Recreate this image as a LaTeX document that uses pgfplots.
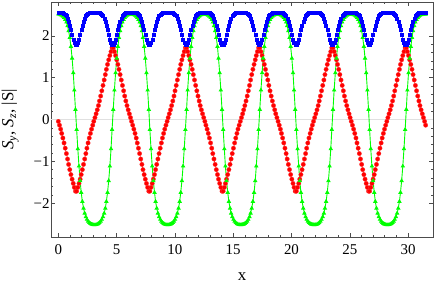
\documentclass[border=0pt]{standalone}
\usepackage{fontspec}
\setmainfont{Liberation Serif}
\usepackage{pgfplots}
\usepackage{pgfplotstable}
\pgfplotsset{compat=1.18}
\definecolor{mred}{rgb}{1,0,0}
\definecolor{mgreen}{rgb}{0,1,0}
\definecolor{mblue}{rgb}{0,0,1}
\pgfplotstableread{
x sy sz s
0.00 -0.045 2.520 2.560
0.10 -0.136 2.515 2.559
0.20 -0.231 2.506 2.557
0.29 -0.333 2.490 2.554
0.39 -0.443 2.468 2.547
0.49 -0.561 2.435 2.534
0.59 -0.686 2.390 2.511
0.69 -0.815 2.327 2.475
0.79 -0.945 2.241 2.422
0.88 -1.074 2.122 2.347
0.98 -1.199 1.960 2.252
1.08 -1.317 1.745 2.141
1.18 -1.427 1.465 2.025
1.28 -1.529 1.116 1.916
1.37 -1.624 0.702 1.832
1.47 -1.715 0.240 1.786
1.57 -1.715 -0.240 1.786
1.67 -1.624 -0.702 1.832
1.77 -1.529 -1.116 1.916
1.87 -1.427 -1.465 2.025
1.96 -1.317 -1.745 2.141
2.06 -1.199 -1.960 2.252
2.16 -1.074 -2.122 2.347
2.26 -0.945 -2.241 2.422
2.36 -0.815 -2.327 2.475
2.45 -0.686 -2.390 2.511
2.55 -0.561 -2.435 2.534
2.65 -0.443 -2.468 2.547
2.75 -0.333 -2.490 2.554
2.85 -0.231 -2.506 2.557
2.95 -0.136 -2.515 2.559
3.04 -0.045 -2.520 2.560
3.14 0.045 -2.520 2.560
3.24 0.136 -2.515 2.559
3.34 0.231 -2.506 2.557
3.44 0.333 -2.490 2.554
3.53 0.443 -2.468 2.547
3.63 0.561 -2.435 2.534
3.73 0.686 -2.390 2.511
3.83 0.815 -2.327 2.475
3.93 0.945 -2.241 2.422
4.03 1.074 -2.122 2.347
4.12 1.199 -1.960 2.252
4.22 1.317 -1.745 2.141
4.32 1.427 -1.465 2.025
4.42 1.529 -1.116 1.916
4.52 1.624 -0.702 1.832
4.61 1.715 -0.240 1.786
4.71 1.715 0.240 1.786
4.81 1.624 0.702 1.832
4.91 1.529 1.116 1.916
5.01 1.427 1.465 2.025
5.11 1.317 1.745 2.141
5.20 1.199 1.960 2.252
5.30 1.074 2.122 2.347
5.40 0.945 2.241 2.422
5.50 0.815 2.327 2.475
5.60 0.686 2.390 2.511
5.69 0.561 2.435 2.534
5.79 0.443 2.468 2.547
5.89 0.333 2.490 2.554
5.99 0.231 2.506 2.557
6.09 0.136 2.515 2.559
6.19 0.045 2.520 2.560
6.28 -0.045 2.520 2.560
6.38 -0.136 2.515 2.559
6.48 -0.231 2.506 2.557
6.58 -0.333 2.490 2.554
6.68 -0.443 2.468 2.547
6.77 -0.561 2.435 2.534
6.87 -0.686 2.390 2.511
6.97 -0.815 2.327 2.475
7.07 -0.945 2.241 2.422
7.17 -1.074 2.122 2.347
7.26 -1.199 1.960 2.252
7.36 -1.317 1.745 2.141
7.46 -1.427 1.465 2.025
7.56 -1.529 1.116 1.916
7.66 -1.624 0.702 1.832
7.76 -1.715 0.240 1.786
7.85 -1.715 -0.240 1.786
7.95 -1.624 -0.702 1.832
8.05 -1.529 -1.116 1.916
8.15 -1.427 -1.465 2.025
8.25 -1.317 -1.745 2.141
8.34 -1.199 -1.960 2.252
8.44 -1.074 -2.122 2.347
8.54 -0.945 -2.241 2.422
8.64 -0.815 -2.327 2.475
8.74 -0.686 -2.390 2.511
8.84 -0.561 -2.435 2.534
8.93 -0.443 -2.468 2.547
9.03 -0.333 -2.490 2.554
9.13 -0.231 -2.506 2.557
9.23 -0.136 -2.515 2.559
9.33 -0.045 -2.520 2.560
9.42 0.045 -2.520 2.560
9.52 0.136 -2.515 2.559
9.62 0.231 -2.506 2.557
9.72 0.333 -2.490 2.554
9.82 0.443 -2.468 2.547
9.92 0.561 -2.435 2.534
10.01 0.686 -2.390 2.511
10.11 0.815 -2.327 2.475
10.21 0.945 -2.241 2.422
10.31 1.074 -2.122 2.347
10.41 1.199 -1.960 2.252
10.50 1.317 -1.745 2.141
10.60 1.427 -1.465 2.025
10.70 1.529 -1.116 1.916
10.80 1.624 -0.702 1.832
10.90 1.715 -0.240 1.786
11.00 1.715 0.240 1.786
11.09 1.624 0.702 1.832
11.19 1.529 1.116 1.916
11.29 1.427 1.465 2.025
11.39 1.317 1.745 2.141
11.49 1.199 1.960 2.252
11.58 1.074 2.122 2.347
11.68 0.945 2.241 2.422
11.78 0.815 2.327 2.475
11.88 0.686 2.390 2.511
11.98 0.561 2.435 2.534
12.08 0.443 2.468 2.547
12.17 0.333 2.490 2.554
12.27 0.231 2.506 2.557
12.37 0.136 2.515 2.559
12.47 0.045 2.520 2.560
12.57 -0.045 2.520 2.560
12.66 -0.136 2.515 2.559
12.76 -0.231 2.506 2.557
12.86 -0.333 2.490 2.554
12.96 -0.443 2.468 2.547
13.06 -0.561 2.435 2.534
13.16 -0.686 2.390 2.511
13.25 -0.815 2.327 2.475
13.35 -0.945 2.241 2.422
13.45 -1.074 2.122 2.347
13.55 -1.199 1.960 2.252
13.65 -1.317 1.745 2.141
13.74 -1.427 1.465 2.025
13.84 -1.529 1.116 1.916
13.94 -1.624 0.702 1.832
14.04 -1.715 0.240 1.786
14.14 -1.715 -0.240 1.786
14.24 -1.624 -0.702 1.832
14.33 -1.529 -1.116 1.916
14.43 -1.427 -1.465 2.025
14.53 -1.317 -1.745 2.141
14.63 -1.199 -1.960 2.252
14.73 -1.074 -2.122 2.347
14.82 -0.945 -2.241 2.422
14.92 -0.815 -2.327 2.475
15.02 -0.686 -2.390 2.511
15.12 -0.561 -2.435 2.534
15.22 -0.443 -2.468 2.547
15.32 -0.333 -2.490 2.554
15.41 -0.231 -2.506 2.557
15.51 -0.136 -2.515 2.559
15.61 -0.045 -2.520 2.560
15.71 0.045 -2.520 2.560
15.81 0.136 -2.515 2.559
15.90 0.231 -2.506 2.557
16.00 0.333 -2.490 2.554
16.10 0.443 -2.468 2.547
16.20 0.561 -2.435 2.534
16.30 0.686 -2.390 2.511
16.40 0.815 -2.327 2.475
16.49 0.945 -2.241 2.422
16.59 1.074 -2.122 2.347
16.69 1.199 -1.960 2.252
16.79 1.317 -1.745 2.141
16.89 1.427 -1.465 2.025
16.98 1.529 -1.116 1.916
17.08 1.624 -0.702 1.832
17.18 1.715 -0.240 1.786
17.28 1.715 0.240 1.786
17.38 1.624 0.702 1.832
17.48 1.529 1.116 1.916
17.57 1.427 1.465 2.025
17.67 1.317 1.745 2.141
17.77 1.199 1.960 2.252
17.87 1.074 2.122 2.347
17.97 0.945 2.241 2.422
18.06 0.815 2.327 2.475
18.16 0.686 2.390 2.511
18.26 0.561 2.435 2.534
18.36 0.443 2.468 2.547
18.46 0.333 2.490 2.554
18.56 0.231 2.506 2.557
18.65 0.136 2.515 2.559
18.75 0.045 2.520 2.560
18.85 -0.045 2.520 2.560
18.95 -0.136 2.515 2.559
19.05 -0.231 2.506 2.557
19.14 -0.333 2.490 2.554
19.24 -0.443 2.468 2.547
19.34 -0.561 2.435 2.534
19.44 -0.686 2.390 2.511
19.54 -0.815 2.327 2.475
19.63 -0.945 2.241 2.422
19.73 -1.074 2.122 2.347
19.83 -1.199 1.960 2.252
19.93 -1.317 1.745 2.141
20.03 -1.427 1.465 2.025
20.13 -1.529 1.116 1.916
20.22 -1.624 0.702 1.832
20.32 -1.715 0.240 1.786
20.42 -1.715 -0.240 1.786
20.52 -1.624 -0.702 1.832
20.62 -1.529 -1.116 1.916
20.71 -1.427 -1.465 2.025
20.81 -1.317 -1.745 2.141
20.91 -1.199 -1.960 2.252
21.01 -1.074 -2.122 2.347
21.11 -0.945 -2.241 2.422
21.21 -0.815 -2.327 2.475
21.30 -0.686 -2.390 2.511
21.40 -0.561 -2.435 2.534
21.50 -0.443 -2.468 2.547
21.60 -0.333 -2.490 2.554
21.70 -0.231 -2.506 2.557
21.79 -0.136 -2.515 2.559
21.89 -0.045 -2.520 2.560
21.99 0.045 -2.520 2.560
22.09 0.136 -2.515 2.559
22.19 0.231 -2.506 2.557
22.29 0.333 -2.490 2.554
22.38 0.443 -2.468 2.547
22.48 0.561 -2.435 2.534
22.58 0.686 -2.390 2.511
22.68 0.815 -2.327 2.475
22.78 0.945 -2.241 2.422
22.87 1.074 -2.122 2.347
22.97 1.199 -1.960 2.252
23.07 1.317 -1.745 2.141
23.17 1.427 -1.465 2.025
23.27 1.529 -1.116 1.916
23.37 1.624 -0.702 1.832
23.46 1.715 -0.240 1.786
23.56 1.715 0.240 1.786
23.66 1.624 0.702 1.832
23.76 1.529 1.116 1.916
23.86 1.427 1.465 2.025
23.95 1.317 1.745 2.141
24.05 1.199 1.960 2.252
24.15 1.074 2.122 2.347
24.25 0.945 2.241 2.422
24.35 0.815 2.327 2.475
24.45 0.686 2.390 2.511
24.54 0.561 2.435 2.534
24.64 0.443 2.468 2.547
24.74 0.333 2.490 2.554
24.84 0.231 2.506 2.557
24.94 0.136 2.515 2.559
25.03 0.045 2.520 2.560
25.13 -0.045 2.520 2.560
25.23 -0.136 2.515 2.559
25.33 -0.231 2.506 2.557
25.43 -0.333 2.490 2.554
25.53 -0.443 2.468 2.547
25.62 -0.561 2.435 2.534
25.72 -0.686 2.390 2.511
25.82 -0.815 2.327 2.475
25.92 -0.945 2.241 2.422
26.02 -1.074 2.122 2.347
26.11 -1.199 1.960 2.252
26.21 -1.317 1.745 2.141
26.31 -1.427 1.465 2.025
26.41 -1.529 1.116 1.916
26.51 -1.624 0.702 1.832
26.61 -1.715 0.240 1.786
26.70 -1.715 -0.240 1.786
26.80 -1.624 -0.702 1.832
26.90 -1.529 -1.116 1.916
27.00 -1.427 -1.465 2.025
27.10 -1.317 -1.745 2.141
27.19 -1.199 -1.960 2.252
27.29 -1.074 -2.122 2.347
27.39 -0.945 -2.241 2.422
27.49 -0.815 -2.327 2.475
27.59 -0.686 -2.390 2.511
27.69 -0.561 -2.435 2.534
27.78 -0.443 -2.468 2.547
27.88 -0.333 -2.490 2.554
27.98 -0.231 -2.506 2.557
28.08 -0.136 -2.515 2.559
28.18 -0.045 -2.520 2.560
28.27 0.045 -2.520 2.560
28.37 0.136 -2.515 2.559
28.47 0.231 -2.506 2.557
28.57 0.333 -2.490 2.554
28.67 0.443 -2.468 2.547
28.77 0.561 -2.435 2.534
28.86 0.686 -2.390 2.511
28.96 0.815 -2.327 2.475
29.06 0.945 -2.241 2.422
29.16 1.074 -2.122 2.347
29.26 1.199 -1.960 2.252
29.35 1.317 -1.745 2.141
29.45 1.427 -1.465 2.025
29.55 1.529 -1.116 1.916
29.65 1.624 -0.702 1.832
29.75 1.715 -0.240 1.786
29.85 1.715 0.240 1.786
29.94 1.624 0.702 1.832
30.04 1.529 1.116 1.916
30.14 1.427 1.465 2.025
30.24 1.317 1.745 2.141
30.34 1.199 1.960 2.252
30.43 1.074 2.122 2.347
30.53 0.945 2.241 2.422
30.63 0.815 2.327 2.475
30.73 0.686 2.390 2.511
30.83 0.561 2.435 2.534
30.93 0.443 2.468 2.547
31.02 0.333 2.490 2.554
31.12 0.231 2.506 2.557
31.22 0.136 2.515 2.559
31.32 0.045 2.520 2.560
31.42 -0.045 2.520 2.560
31.51 -0.136 2.515 2.559
}\datatable

\begin{document}
\begin{tikzpicture}
\begin{axis}[
  scale only axis,
  width=382bp, height=235bp,
  xmin=-0.63, xmax=32.14, ymin=-2.81, ymax=2.81,
  axis line style={black!70, line width=0.6bp},
  tick align=inside,
  xtick={0,5,10,15,20,25,30},
  xticklabels={0,5,10,15,20,25,30},
  ytick={-2,-1,0,1,2},
  yticklabels={−2,−1,0,1,2},
  minor x tick num=4, minor y tick num=4,
  major tick length=4bp, minor tick length=2.2bp,
  every tick/.style={black!70, line width=0.5bp},
  tick label style={font=\fontsize{15}{15}\selectfont, text=black},
  xticklabel style={yshift=-4bp},
  yticklabel style={xshift=2bp},
  xlabel={x},
  ylabel={\textit{S}\textsubscript{\textit{y}}, \textit{S}\textsubscript{\textit{z}}, |S|},
  label style={font=\fontsize{17}{17}\selectfont},
  xlabel style={at={(axis description cs:0.5,-0.168)}, anchor=center},
  ylabel style={at={(axis description cs:-0.107,0.5)}, anchor=center},
  extra y ticks={0}, extra y tick labels={},
  extra y tick style={grid=major, major grid style={black!12, line width=1.6bp}, major tick length=0pt},
]
\addplot[mred, line width=0.5bp, mark=*, mark size=2.2bp, mark options={fill=mred, draw=mred!80!white, line width=0.3bp}] table[x=x, y=sy]{\datatable};
\addplot[mgreen, line width=0.9bp, mark=triangle*, mark size=1.7bp, mark options={fill=mgreen, draw=mgreen}] table[x=x, y=sz]{\datatable};
\addplot[mblue, line width=0.5bp, mark=square*, mark size=1.5bp, mark options={fill=mblue, draw=mblue, line width=0.3bp}] table[x=x, y=s]{\datatable};
\end{axis}
\pgfresetboundingbox
\path ([shift={(-51bp,-49bp)}]current axis.south west) rectangle ([shift={(3bp,2bp)}]current axis.north east);
\end{tikzpicture}
\end{document}
